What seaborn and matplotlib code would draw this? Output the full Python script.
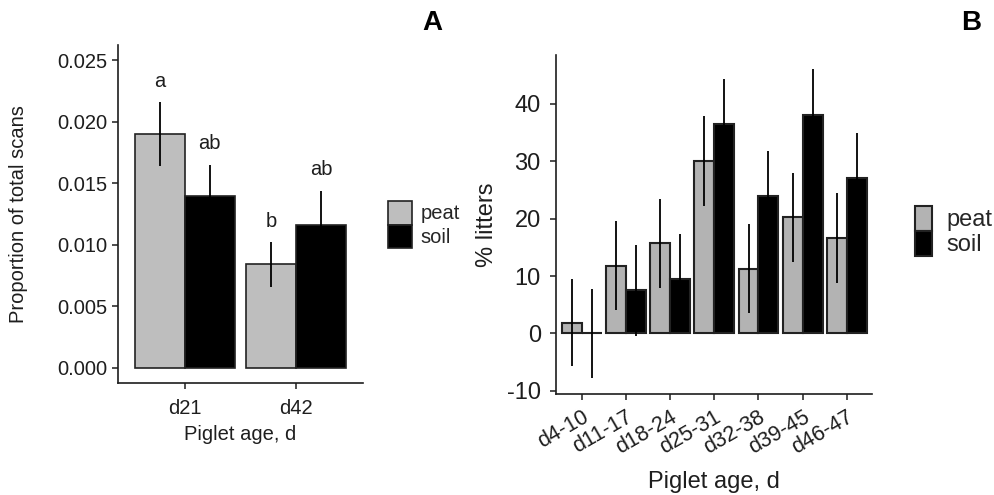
import matplotlib
matplotlib.use("Agg")
import matplotlib.pyplot as plt
import matplotlib.patches as mpatches
import numpy as np
import pandas as pd
import seaborn as sns

# Panel A: proportion of total scans
ages_a = ["d21", "d42"]
peat_a = [0.0190, 0.0084]
peat_a_se = [0.0026, 0.0018]
soil_a = [0.0140, 0.0116]
soil_a_se = [0.0025, 0.0028]
letters_peat_a = ["a", "b"]
letters_soil_a = ["ab", "ab"]

# Panel B: % litters by age window
ages_b = ["d4-10", "d11-17", "d18-24", "d25-31", "d32-38", "d39-45", "d46-47"]
peat_b = [1.9, 11.8, 15.7, 30.0, 11.3, 20.2, 16.6]
peat_b_se = [7.6, 7.7, 7.8, 7.8, 7.7, 7.8, 7.8]
soil_b = [0.0, 7.5, 9.5, 36.5, 23.9, 38.1, 27.1]
soil_b_se = [7.7, 7.9, 7.9, 7.9, 7.9, 7.9, 7.8]

treatments = ["peat", "soil"]

sns.set_theme(style="white")
plt.rcParams["font.family"] = ["Liberation Sans", "DejaVu Sans"]
plt.rcParams["axes.unicode_minus"] = False

INK = "#1e1e1e"


def long_table(ages, peat, soil):
    return pd.DataFrame({
        "age": list(ages) * 2,
        "treatment": ["peat"] * len(ages) + ["soil"] * len(ages),
        "value": list(peat) + list(soil),
    })


def draw_panel(ax, ages, peat, peat_se, soil, soil_se, grey, edge_lw):
    df = long_table(ages, peat, soil)
    sns.barplot(data=df, x="age", y="value", hue="treatment",
                hue_order=treatments, palette=[grey, "black"],
                errorbar=None, width=0.9, edgecolor="#222222",
                linewidth=edge_lw, saturation=1, legend=False, ax=ax)
    centres = []
    for cont, means, ses in zip(ax.containers, [peat, soil], [peat_se, soil_se]):
        xs = [b.get_x() + b.get_width() / 2 for b in cont]
        ax.errorbar(xs, means, yerr=ses, fmt="none", ecolor="black",
                    elinewidth=1.3, capsize=0, zorder=5)
        centres.append(xs)
    for side in ["top", "right"]:
        ax.spines[side].set_visible(False)
    for side in ["left", "bottom"]:
        ax.spines[side].set_color(INK)
        ax.spines[side].set_linewidth(1.2)
    ax.tick_params(axis="both", which="major", length=4, width=1.1,
                   color=INK, labelcolor=INK, direction="out",
                   left=True, bottom=True)
    return centres


fig = plt.figure(figsize=(9.94, 4.95), dpi=100)

# ---- Panel A ----
axA = fig.add_axes([0.1187, 0.2263, 0.2465, 0.6828])
cA = draw_panel(axA, ages_a, peat_a, peat_a_se, soil_a, soil_a_se,
                "#bebebe", 1.2)
axA.set_xlim(-0.6, 1.6)
axA.set_ylim(-0.00122, 0.02622)
axA.set_yticks([0.0, 0.005, 0.010, 0.015, 0.020, 0.025])
axA.set_yticklabels(["0.000", "0.005", "0.010", "0.015", "0.020", "0.025"])
axA.tick_params(axis="both", labelsize=14.5, pad=3.5)
axA.tick_params(axis="x", pad=7.5)
axA.set_xlabel("Piglet age, d", fontsize=14.5, color=INK, labelpad=5)
axA.set_ylabel("Proportion of total scans", fontsize=14.5, color=INK, labelpad=21)
for xs, means, ses, labs in zip(cA, [peat_a, soil_a], [peat_a_se, soil_a_se],
                                [letters_peat_a, letters_soil_a]):
    for x, m, s, t in zip(xs, means, ses, labs):
        axA.text(x, m + s + 0.00125, t, ha="center", va="baseline",
                 fontsize=14.5, color=INK)

handles_a = [mpatches.Patch(facecolor="#bebebe", edgecolor="#222222", linewidth=1.2),
             mpatches.Patch(facecolor="black", edgecolor="#222222", linewidth=1.2)]
fig.legend(handles_a, treatments, loc="upper left",
           bbox_to_anchor=(388 / 994, 1 - 201 / 495), frameon=False,
           fontsize=14.5, handlelength=1.2, handleheight=1.42,
           handletextpad=0.4, labelspacing=0.0, borderpad=0,
           borderaxespad=0)

# ---- Panel B ----
axB = fig.add_axes([0.5594, 0.2034, 0.3179, 0.6855])
draw_panel(axB, ages_b, peat_b, peat_b_se, soil_b, soil_b_se, "#b3b3b3", 1.5)
axB.set_xlim(-0.58, 6.57)
axB.set_ylim(-10.6, 48.5)
axB.set_yticks([-10, 0, 10, 20, 30, 40])
axB.tick_params(axis="y", labelsize=17, pad=7)
axB.tick_params(axis="x", labelsize=15.5, pad=5)
plt.setp(axB.get_xticklabels(), rotation=30, ha="right",
         rotation_mode="anchor", va="top")
axB.set_xlabel("Piglet age, d", fontsize=17, color=INK, labelpad=9)
axB.set_ylabel("% litters", fontsize=17, color=INK, labelpad=6)

handles_b = [mpatches.Patch(facecolor="#b3b3b3", edgecolor="#222222", linewidth=1.5),
             mpatches.Patch(facecolor="black", edgecolor="#222222", linewidth=1.5)]
fig.legend(handles_b, treatments, loc="upper left",
           bbox_to_anchor=(915 / 994, 1 - 206 / 495), frameon=False,
           fontsize=17, handlelength=0.72, handleheight=1.22,
           handletextpad=0.6, labelspacing=0.0, borderpad=0,
           borderaxespad=0)

# Panel letters
fig.text(432 / 994, 1 - 23 / 495, "A", ha="center", va="center",
         fontsize=20, fontweight="bold", color="black")
fig.text(971 / 994, 1 - 23 / 495, "B", ha="center", va="center",
         fontsize=20, fontweight="bold", color="black")

fig.savefig("out.png", dpi=100, facecolor="white")
